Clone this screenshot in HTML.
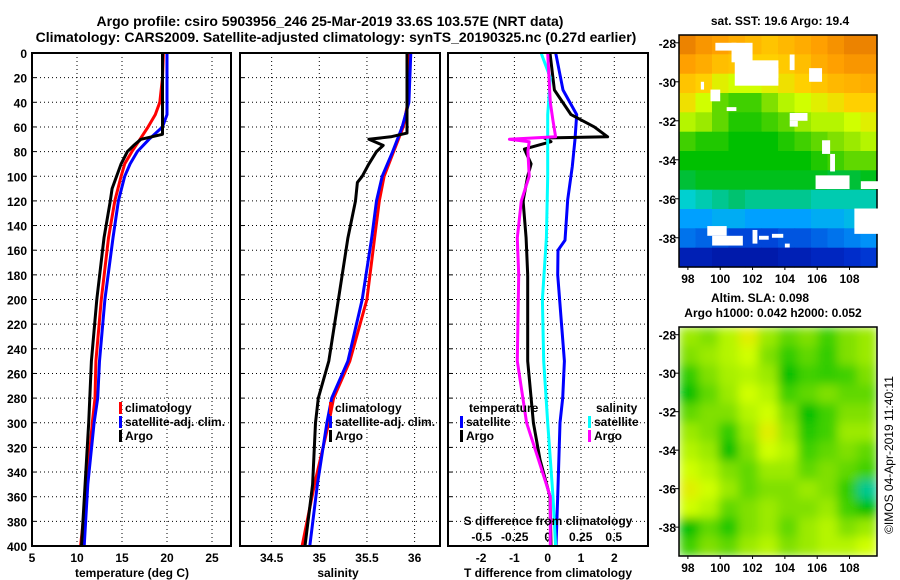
<!DOCTYPE html>
<html><head><meta charset="utf-8"><style>
body{margin:0;background:#fff}
svg{display:block;font-family:"Liberation Sans",sans-serif;font-weight:bold}
</style></head><body>
<svg id="s" width="900" height="580" viewBox="0 0 900 580" xmlns="http://www.w3.org/2000/svg">
<defs><filter id="bl" x="0" y="0" width="1" height="1"><feGaussianBlur stdDeviation="5"/></filter>
<clipPath id="c2"><rect x="679" y="327" width="198" height="229"/></clipPath></defs>
<rect width="900" height="580" fill="#fff"/>
<text x="330" y="26" font-size="14" text-anchor="middle">Argo profile: csiro 5903956_246 25-Mar-2019 33.6S 103.57E (NRT data)</text>
<text x="336" y="42" font-size="14" text-anchor="middle">Climatology: CARS2009. Satellite-adjusted climatology: synTS_20190325.nc (0.27d earlier)</text>
<text x="780" y="25" font-size="12" text-anchor="middle">sat. SST: 19.6 Argo: 19.4</text>
<text x="760" y="302" font-size="12" text-anchor="middle">Altim. SLA: 0.098</text>
<text x="773" y="317" font-size="12" text-anchor="middle">Argo h1000: 0.042 h2000: 0.052</text>
<text transform="translate(893,455) rotate(-90)" font-size="12" font-weight="normal" text-anchor="middle">©IMOS 04-Apr-2019 11:40:11</text>
<g id="g"></g>
</svg>
<script>
// ---- data ----
const depthTicks=[0,20,40,60,80,100,120,140,160,180,200,220,240,260,280,300,320,340,360,380,400];
const tTicks=[5,10,15,20,25];
const sTicks=[34.5,35,35.5,36];
const dtTicks=[-2,-1,0,1,2];
const dsTicks=[-0.5,-0.25,0,0.25,0.5];
const dsTickLabels=["-0.5","-0.25","0","0.25","0.5"];
const argoTD=[0,50,66,70,75,80,90,100,110,120,150,200,250,300,350,400];
const argoT=[19.5,19.5,19.5,17.1,16.3,15.6,14.9,14.4,13.9,13.7,13.0,12.2,11.6,11.3,10.9,10.5];
const climTD=[0,20,40,50,60,70,80,90,100,120,150,200,250,280,300,350,400];
const climT=[19.6,19.5,19.2,18.7,17.9,17.0,16.1,15.3,14.9,14.2,13.5,12.7,12.1,12.0,11.7,11.1,10.4];
const satTD=[0,50,60,70,80,90,100,120,150,200,250,280,300,350,400];
const satT=[20.0,20.0,19.5,18.0,16.7,15.9,15.3,14.6,14.0,13.1,12.5,12.3,11.9,11.2,10.8];
const argoSD=[0,65,68,70,75,80,90,100,105,120,150,200,250,280,300,350,400];
const argoS=[35.92,35.92,35.75,35.52,35.67,35.6,35.52,35.45,35.40,35.38,35.3,35.2,35.1,34.99,34.96,34.93,34.85];
const climSD=[0,40,60,80,100,120,150,200,250,280,300,350,400];
const climS=[35.95,35.93,35.88,35.78,35.68,35.63,35.58,35.5,35.32,35.15,35.1,34.95,34.82];
const satSD=[0,40,60,80,100,120,150,200,250,280,300,350,400];
const satS=[35.96,35.94,35.87,35.77,35.66,35.6,35.55,35.45,35.3,35.13,35.08,34.98,34.9];
const dSatTD=[0,30,50,70,92,119,152,160,180,250,280,300,360,400];
const dSatT=[0.24,0.46,0.87,0.82,0.74,0.6,0.52,0.31,0.3,0.5,0.45,0.37,0.3,0.25];
const dArgoTD=[0,30,50,60,68,69,72,78,90,100,120,150,180,250,300,330,360,400];
const dArgoT=[0.07,0.2,0.7,1.4,1.8,-0.1,0.1,-0.7,-0.5,-0.6,-0.74,-0.65,-0.6,-0.6,-0.43,-0.23,0.07,0.1];
const dSatSD=[0,20,50,100,150,200,250,300,360,400];
const dSatS=[-0.05,0.02,0.0,0.0,-0.01,-0.04,-0.03,0.0,0.04,0.06];
const dArgoSD=[0,40,55,68,70,72,80,100,120,150,180,250,300,330,360,400];
const dArgoS=[0.0,0.02,0.04,0.06,-0.29,-0.14,-0.15,-0.14,-0.2,-0.23,-0.22,-0.23,-0.16,-0.07,0.02,0.02];
const sstGrid=[
[.86,.82,.80,.78,.76,.74,.76,.78,.80,.83,.86,.86],
[.80,.78,.75,.74,.72,.72,.73,.75,.78,.80,.82,.82],
[.74,.72,.68,.66,.66,.68,.70,.72,.74,.76,.77,.78],
[.70,.66,.58,.56,.56,.60,.64,.66,.68,.70,.72,.72],
[.64,.62,.58,.54,.54,.56,.58,.62,.64,.64,.66,.68],
[.56,.54,.54,.52,.52,.52,.54,.56,.58,.60,.62,.64],
[.52,.52,.52,.52,.52,.52,.52,.52,.54,.56,.58,.58],
[.48,.50,.50,.50,.50,.50,.50,.50,.50,.48,.48,.50],
[.38,.40,.42,.44,.42,.42,.42,.42,.40,.40,.40,.40],
[.30,.30,.32,.32,.30,.30,.30,.30,.32,.32,.34,.36],
[.24,.22,.20,.18,.18,.18,.20,.20,.22,.24,.26,.28],
[.10,.10,.08,.08,.08,.08,.10,.10,.12,.12,.14,.16]];
const cloudBoxes=[[99.7,-28.0,101.0,-28.4],[100.7,-28.0,102.0,-29.0],[100.9,-28.9,103.6,-30.2],[103.2,-29.3,103.6,-29.8],[104.3,-28.6,104.6,-29.4],[105.5,-29.3,106.3,-30.0],[99.4,-30.4,100.0,-31.0],[98.8,-30.0,99.0,-30.4],[100.4,-31.3,101.0,-31.5],[104.3,-31.6,105.4,-32.0],[104.3,-32.0,104.8,-32.3],[106.3,-33.0,106.8,-33.7],[106.8,-33.7,107.1,-34.6],[105.9,-34.8,108.0,-35.5],[108.7,-35.1,109.8,-35.5],[108.3,-36.5,109.8,-37.8],[99.2,-37.4,100.4,-37.9],[99.5,-37.9,101.4,-38.4],[102.0,-37.6,102.3,-38.3],[102.4,-37.9,103.0,-38.1],[103.2,-37.8,103.9,-38.0],[104.0,-38.3,104.3,-38.5]];
const slaGrid=[
[.62,.60,.64,.68,.62,.58,.60,.56,.60,.62],
[.60,.62,.64,.66,.60,.55,.58,.55,.60,.62],
[.55,.60,.63,.64,.62,.52,.56,.55,.56,.60],
[.52,.58,.62,.66,.64,.56,.58,.60,.58,.58],
[.58,.60,.60,.64,.66,.60,.52,.56,.60,.60],
[.62,.60,.55,.62,.68,.62,.54,.56,.62,.62],
[.64,.62,.52,.60,.66,.64,.56,.58,.60,.58],
[.66,.64,.60,.58,.62,.62,.58,.60,.58,.56],
[.68,.66,.62,.58,.60,.60,.62,.60,.55,.42],
[.66,.64,.58,.60,.62,.60,.60,.62,.56,.52],
[.52,.58,.54,.60,.62,.58,.62,.64,.60,.62],
[.56,.60,.58,.62,.64,.60,.62,.64,.64,.66]];
const latTicks=[-28,-30,-32,-34,-36,-38];
const lonTicks=[98,100,102,104,106,108];

// ---- helpers ----
const NS="http://www.w3.org/2000/svg";
const G=document.getElementById('g');
function mk(t,a,p){const e=document.createElementNS(NS,t);for(const k in a)e.setAttribute(k,a[k]);(p||G).appendChild(e);return e;}
const yD=d=>53+d*1.2325;
const xT=t=>32+(t-5)*9;
const xS=s=>319.3+(s-35)*95.3;
const xDT=v=>547.7+v*33.3;
const xDS=v=>547.7+v*132;
const PANELS=[[32,231],[240,440],[448,648]];

function txt(x,y,s,size,anchor,name){const e=mk('text',{x:x,y:y,'font-size':size,'text-anchor':anchor});e.textContent=s;


return e;}
function line(xs,ds,xf,color,name){
 const pts=xs.map((v,i)=>xf(v).toFixed(1)+','+yD(ds[i]).toFixed(1)).join(' ');
 const e=mk('polyline',{points:pts,fill:'none',stroke:color,'stroke-width':3,'stroke-linejoin':'round'});
 
 
}
PANELS.forEach((p,pi)=>{
 depthTicks.forEach(d=>{if(d>0&&d<400){const e=mk('line',{x1:p[0],x2:p[1],y1:yD(d),y2:yD(d),stroke:'#000','stroke-width':1,'stroke-dasharray':'1,3'});
 
 }});
});
tTicks.forEach(t=>{if(t>5){const e=mk('line',{x1:xT(t),x2:xT(t),y1:53,y2:546,stroke:'#000','stroke-dasharray':'1,3'});
 
 }
 txt(xT(t),562,String(t),12,'middle','temperature-tick-label');});
sTicks.forEach(s=>{const e=mk('line',{x1:xS(s),x2:xS(s),y1:53,y2:546,stroke:'#000','stroke-dasharray':'1,3'});
 
 
 txt(xS(s),562,String(s),12,'middle','salinity-tick-label');});
dtTicks.forEach(v=>{const e=mk('line',{x1:xDT(v),x2:xDT(v),y1:53,y2:546,stroke:'#000','stroke-dasharray':'1,3'});
 
 
 txt(xDT(v),562,String(v),12,'middle','tdiff-tick-label');});
dsTicks.forEach((v,i)=>{txt(xDS(v),541,dsTickLabels[i],12,'middle','sdiff-tick-label');});
depthTicks.forEach(d=>{txt(27,yD(d)+5,String(d),12,'end','depth-tick-label');
 PANELS.forEach(p=>{const e=mk('line',{x1:p[0],x2:p[0]+4,y1:yD(d),y2:yD(d),stroke:'#000'});
 
 });});

line(climT,climTD,xT,'#f00','climatology-temperature-line');
line(satT,satTD,xT,'#00f','satellite-temperature-line');
line(argoT,argoTD,xT,'#000','argo-temperature-line');
line(climS,climSD,xS,'#f00','climatology-salinity-line');
line(satS,satSD,xS,'#00f','satellite-salinity-line');
line(argoS,argoSD,xS,'#000','argo-salinity-line');
line(dSatT,dSatTD,xDT,'#00f','satellite-tdiff-line');
line(dArgoT,dArgoTD,xDT,'#000','argo-tdiff-line');
line(dSatS,dSatSD,xDS,'#0ff','satellite-sdiff-line');
line(dArgoS,dArgoSD,xDS,'#f0f','argo-sdiff-line');

PANELS.forEach(p=>{const e=mk('rect',{x:p[0],y:53,width:p[1]-p[0],height:493,fill:'none',stroke:'#000','stroke-width':2});
 
 });

function leg(x,y,c,s,name){const r=mk('rect',{x:x,y:y-10,width:3,height:12,fill:c});
 
 
 txt(x+6,y,s,12,'start',name);}
leg(119,412,'#f00','climatology','legend-climatology');
leg(119,426,'#00f','satellite-adj. clim.','legend-satellite-adj');
leg(119,440,'#000','Argo','legend-argo');
leg(329,412,'#f00','climatology','legend-climatology-s');
leg(329,426,'#00f','satellite-adj. clim.','legend-satellite-adj-s');
leg(329,440,'#000','Argo','legend-argo-s');
txt(469,412,'temperature',12,'start','legend-temperature-heading');
leg(460,426,'#00f','satellite','legend-tdiff-satellite');
leg(460,440,'#000','Argo','legend-tdiff-argo');
txt(596,412,'salinity',12,'start','legend-salinity-heading');
leg(588,426,'#0ff','satellite','legend-sdiff-satellite');
leg(588,440,'#f0f','Argo','legend-sdiff-argo');
txt(548,525,'S difference from climatology',12,'middle','sdiff-axis-title');
txt(132,577,'temperature (deg C)',12,'middle','temperature-axis-title');
txt(338,577,'salinity',12,'middle','salinity-axis-title');
txt(548,577,'T difference from climatology',12,'middle','tdiff-axis-title');

const stops=[[0,[0,0,128]],[.15,[0,48,208]],[.3,[0,160,255]],[.38,[0,208,208]],[.45,[0,192,96]],[.52,[0,192,0]],[.6,[128,224,0]],[.66,[208,255,0]],[.72,[255,208,0]],[.8,[255,160,0]],[.9,[224,112,0]],[1,[200,80,0]]];
function cmap(v){for(let i=1;i<stops.length;i++){if(v<=stops[i][0]){const a=stops[i-1],b=stops[i],f=(v-a[0])/(b[0]-a[0]);
 const c=a[1].map((x,k)=>Math.round(x+(b[1][k]-x)*f));return 'rgb('+c+')';}}return 'rgb(200,80,0)';}
function mapPanel(grid,top,bottom,name,smooth){
 const L=679,R=877,lonMin=97.45,lonMax=109.7,latTop=-27.6,latBot=-39.5;
 const lx=lo=>L+(lo-lonMin)/(lonMax-lonMin)*(R-L);
 const ly=la=>top+(latTop-la)/(latTop-latBot)*(bottom-top);
 const rows=grid.length,cols=grid[0].length,cw=(R-L)/cols,ch=(bottom-top)/rows;
 const outer=mk('g',smooth?{'clip-path':'url(#c2)'}:{});
 const gg=mk('g',smooth?{filter:'url(#bl)'}:{},outer);
 
 
 grid.forEach((row,r)=>row.forEach((v,c)=>{const e=mk('rect',{x:(L+c*cw).toFixed(1),y:(top+r*ch).toFixed(1),width:(cw+0.6).toFixed(1),height:(ch+0.6).toFixed(1),fill:cmap(v)},gg);
 
 }));
 const f=mk('rect',{x:L,y:top,width:R-L,height:bottom-top,fill:'none',stroke:'#000','stroke-width':1.5});
 
 
 latTicks.forEach(la=>{txt(L-3,ly(la)+5,String(la),12,'end',name+'-lat-label');
  const t=mk('line',{x1:L-4,x2:L,y1:ly(la),y2:ly(la),stroke:'#000'});
  
  });
 lonTicks.forEach(lo=>{txt(lx(lo),bottom+16,String(lo),12,'middle',name+'-lon-label');
  const t=mk('line',{x1:lx(lo),x2:lx(lo),y1:bottom,y2:bottom+3,stroke:'#000'});
  
  });
 return {lx,ly};
}
const m1=mapPanel(sstGrid,35,267,'sst-map',false);
cloudBoxes.forEach(b=>{const e=mk('rect',{x:m1.lx(b[0]),y:m1.ly(b[1]),width:m1.lx(b[2])-m1.lx(b[0]),height:m1.ly(b[3])-m1.ly(b[1]),fill:'#fff'});
 
 });
mapPanel(slaGrid,327,556,'sla-map',true);
</script>
</body></html>
